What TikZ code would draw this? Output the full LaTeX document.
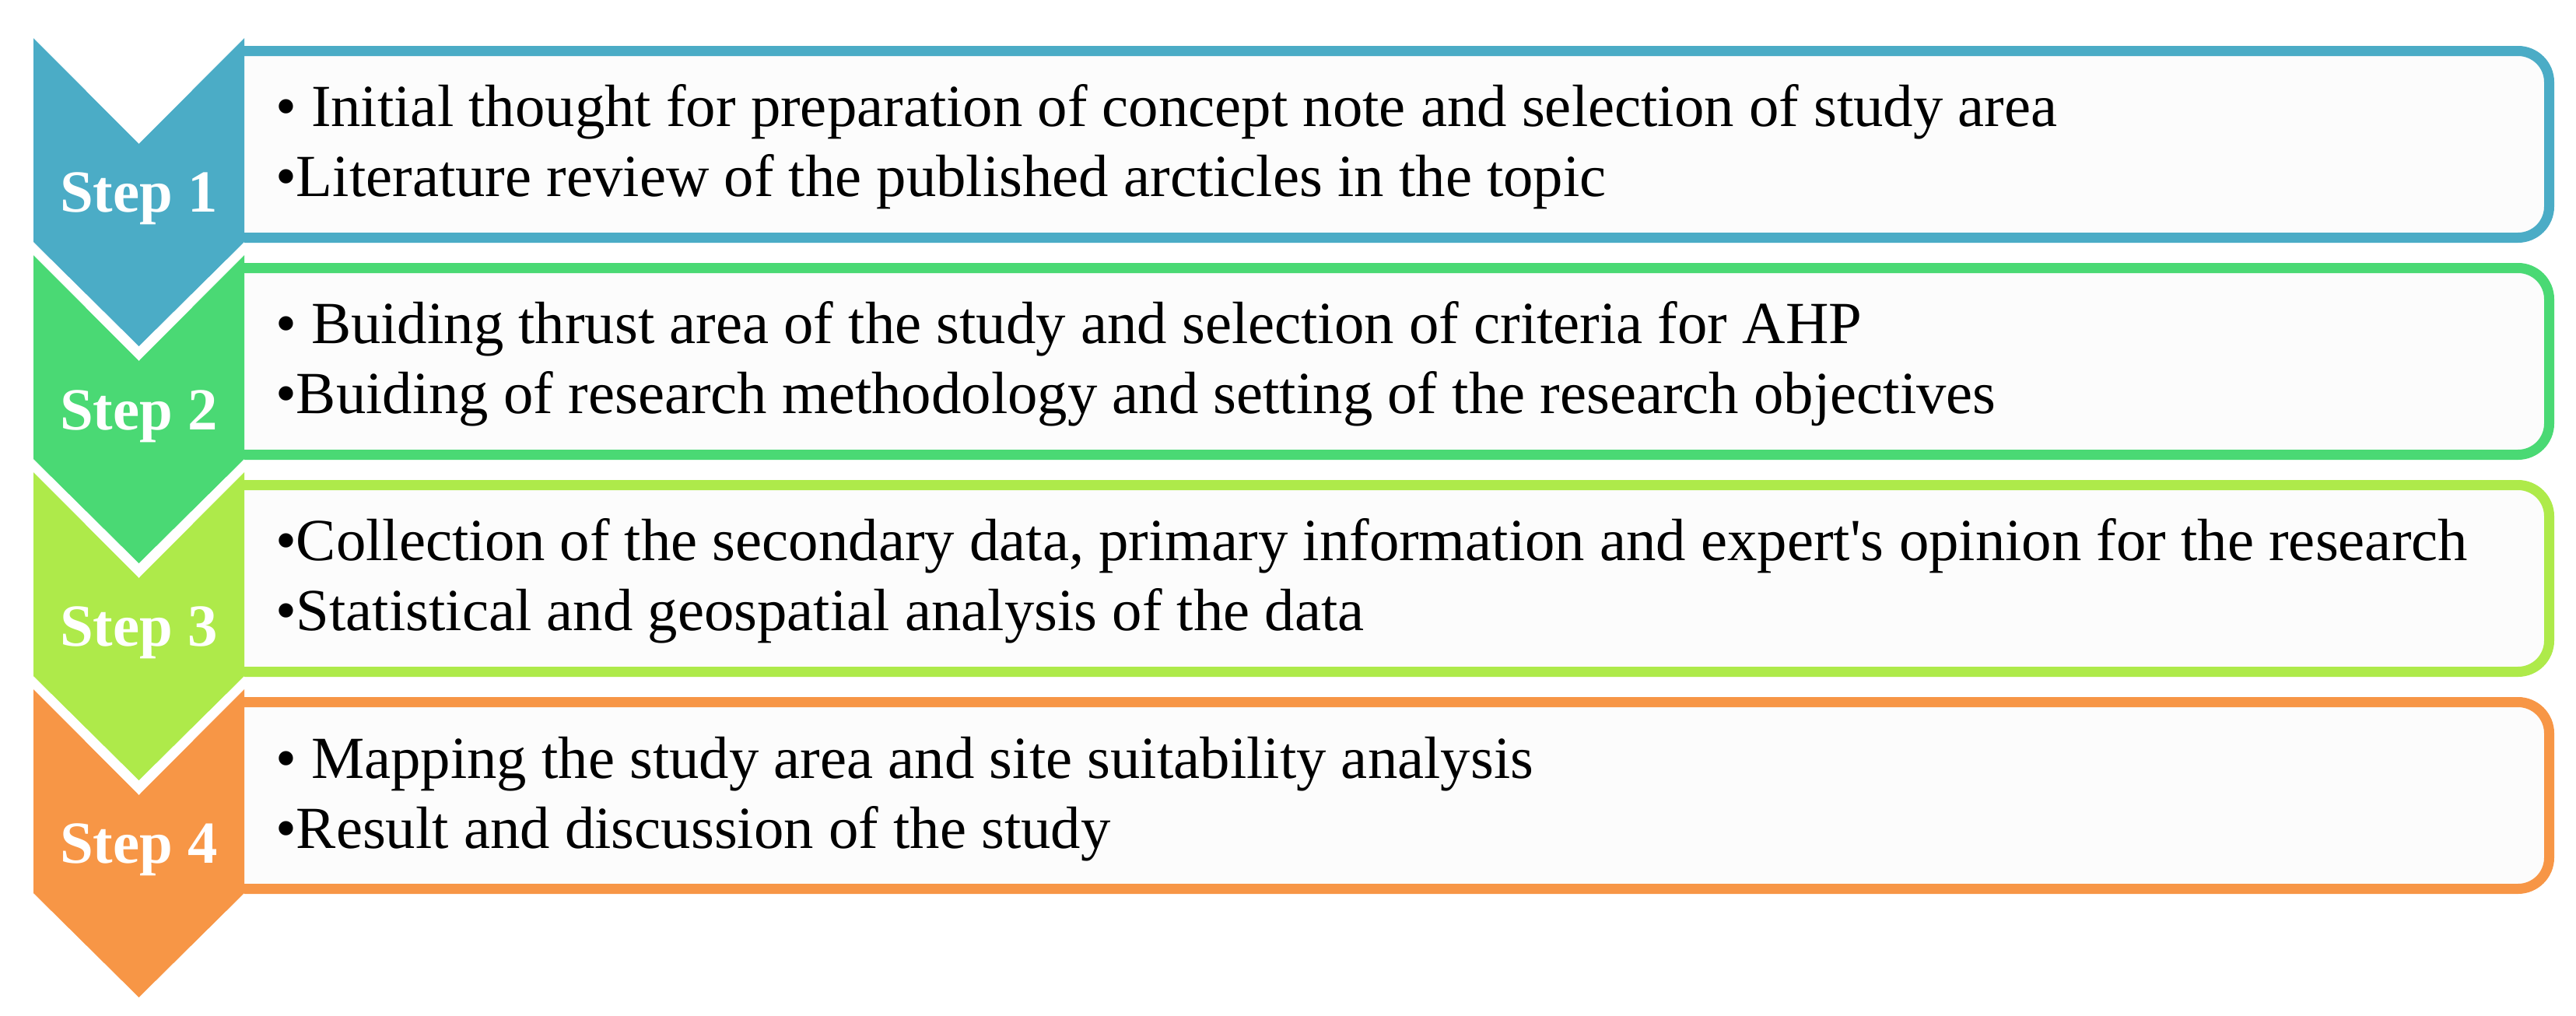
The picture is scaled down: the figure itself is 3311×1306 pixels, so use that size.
\documentclass[tikz,border=0pt]{standalone}
\usepackage{fontspec}
\setmainfont{Liberation Serif}[Ligatures=TeXOff]
\definecolor{cblue}{HTML}{4BACC6}
\definecolor{cgreen}{HTML}{4AD974}
\definecolor{clime}{HTML}{AEEA4A}
\definecolor{corange}{HTML}{F79646}
\definecolor{boxfill}{HTML}{FCFCFC}
\tikzset{
  bodytext/.style={anchor=base west, inner sep=0pt, text=black, font=\fontsize{15.35}{18}\selectfont},
  steplabel/.style={anchor=base, inner sep=0pt, text=white, font=\bfseries\fontsize{15.35}{18}\selectfont},
  stepbox/.style={line width=2.6pt, rounded corners=8pt, fill=boxfill},
}
\newcommand{\mychev}[2]{% color, top y
  \fill[#1] (43,#2) -- (178.5,#2+136) -- (314,#2) -- (314,#2+262) -- (178.5,#2+396) -- (43,#2+262) -- cycle;}
\newcommand{\mystepbox}[2]{% color, outer top y
  \draw[stepbox, draw=#1] (314,#2+6.5) -- (3276.5,#2+6.5) -- (3276.5,#2+246.5) -- (314,#2+246.5);}
\begin{document}
\begin{tikzpicture}[x=0.2pt,y=-0.2pt]
\useasboundingbox (0,0) rectangle (3311,1306);
% Step 1
\mystepbox{cblue}{59}
\mychev{cblue}{49}
\node[steplabel] (s1) at (178.5,272) {Step 1};
\node[bodytext] (t1a) at (353,162) {• Initial thought for preparation of concept note and selection of study area};
\node[bodytext] (t1b) at (353,252) {•Literature review of the published arcticles in the topic};
% Step 2
\mystepbox{cgreen}{338}
\mychev{cgreen}{328}
\node[steplabel] (s2) at (178.5,552) {Step 2};
\node[bodytext] (t2a) at (353,441) {• Buiding thrust area of the study and selection of criteria for AHP};
\node[bodytext] (t2b) at (353,531) {•Buiding of research methodology and setting of the research objectives};
% Step 3
\mystepbox{clime}{617}
\mychev{clime}{607}
\node[steplabel] (s3) at (178.5,830) {Step 3};
\node[bodytext] (t3a) at (353,720) {•Collection of the secondary data, primary information and expert's opinion for the research};
\node[bodytext] (t3b) at (353,810) {•Statistical and geospatial analysis of the data};
% Step 4
\mystepbox{corange}{896}
\mychev{corange}{886}
\node[steplabel] (s4) at (178.5,1109) {Step 4};
\node[bodytext] (t4a) at (353,1000) {• Mapping the study area and site suitability analysis};
\node[bodytext] (t4b) at (353,1090) {•Result and discussion of the study};
\end{tikzpicture}
\end{document}
